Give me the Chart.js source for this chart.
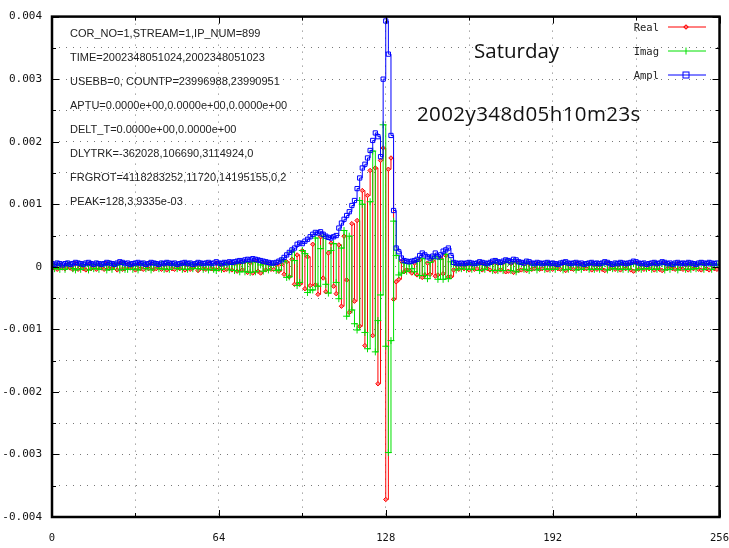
<!DOCTYPE html>
<html>
<head>
<meta charset="utf-8">
<script src="https://cdn.jsdelivr.net/npm/chart.js@4.4.0/dist/chart.umd.min.js"></script>
<style>
  body { margin: 0; background: #fff; }
  #wrap { position: relative; width: 729px; height: 548px; }
  .info { position: absolute; left: 70px; font: 11px "Liberation Sans", sans-serif; color: #222; white-space: pre; line-height: 14px; }
  .big { position: absolute; font: 20.5px "Open Sans", sans-serif; color: #111; white-space: nowrap; line-height: 24px; }
  .legtxt { position: absolute; left: 600px; width: 59px; text-align: right; font: 10.5px "DejaVu Sans Mono", monospace; color: #222; line-height: 14px; }
  .legsvg { position: absolute; left: 668px; width: 38px; height: 12px; }
</style>
</head>
<body>
<div id="wrap">
  <canvas id="fringe" width="729" height="548"></canvas>

  <div class="info" style="top:26px">COR_NO=1,STREAM=1,IP_NUM=899</div>
  <div class="info" style="top:50px">TIME=2002348051024,2002348051023</div>
  <div class="info" style="top:74px">USEBB=0, COUNTP=23996988,23990951</div>
  <div class="info" style="top:98px">APTU=0.0000e+00,0.0000e+00,0.0000e+00</div>
  <div class="info" style="top:122px">DELT_T=0.0000e+00,0.0000e+00</div>
  <div class="info" style="top:146px">DLYTRK=-362028,106690,3114924,0</div>
  <div class="info" style="top:170px">FRGROT=4118283252,11720,14195155,0,2</div>
  <div class="info" style="top:194px">PEAK=128,3.9335e-03</div>

  <div class="big" style="left:474px; top:38px">Saturday</div>
  <div class="big" style="left:417px; top:101px; letter-spacing:0.4px">2002y348d05h10m23s</div>

  <div class="legtxt" style="top:20px">Real</div>
  <svg class="legsvg" style="top:21px" viewBox="0 0 38 12">
    <line x1="0" y1="6" x2="38" y2="6" stroke="#ff0000" stroke-width="1"/>
    <rect x="16.5" y="4.5" width="3" height="3" fill="#ff8080" stroke="#ff0000" stroke-width="1" transform="rotate(45 18 6)"/>
  </svg>
  <div class="legtxt" style="top:44px">Imag</div>
  <svg class="legsvg" style="top:45px" viewBox="0 0 38 12">
    <line x1="0" y1="6" x2="38" y2="6" stroke="#00e000" stroke-width="1"/>
    <line x1="18" y1="2.5" x2="18" y2="9.5" stroke="#00e000" stroke-width="1"/>
  </svg>
  <div class="legtxt" style="top:68px">Ampl</div>
  <svg class="legsvg" style="top:69px" viewBox="0 0 38 12">
    <line x1="0" y1="6" x2="38" y2="6" stroke="#0000ff" stroke-width="1"/>
    <rect x="15" y="3" width="6" height="6" fill="none" stroke="#0000ff" stroke-width="1"/>
  </svg>
</div>

<script>
// sample number (lag channel) 0..255
const sampleNo = Array.from({length: 256}, (_, i) => i);

// values, in units of 1e-4
const realVals = [
  -0.3, 0.2,-0.4, 0.3,-0.2,-0.3, 0.4,-0.2,-0.4, 0.5,
  -0.4, 0.2,-0.3,-0.5, 0.4,-0.3, 0.2,-0.4, 0.3,-0.2,
  -0.4, 0.5,-0.3,-0.2, 0.3,-0.5, 0.6,-0.4,-0.3, 0.4,
  -0.2, 0.3,-0.5, 0.4,-0.3,-0.4, 0.2,-0.3, 0.5,-0.4,
  -0.3, 0.2,-0.4, 0.3,-0.5, 0.4,-0.3,-0.4, 0.2,-0.3,
   0.4,-0.5, 0.3,-0.4,-0.2, 0.3,-0.6, 0.4,-0.3,-0.4,
   0.5,-0.3,-0.4, 0.6,-0.4, 0.3,-0.5,-0.4, 0.6,-0.5,
   0.5,-0.7, 0.6,-0.5, 0.8,-0.9, 0.6,-1.0, 0.9,-0.7,
  -1.0, 0.6,-0.5, 0.5,-0.4,-0.4, 0.3,-0.7, 0.4,-1.2,
   0.8,-1.6, 1.2,-2.8, 1.9,-2.8, 2.6,-3.5, 1.6,-3.0,
   3.6,-2.9,-4.4, 4.8,-1.8,-4.0, 2.2, 3.8,-3.1,-4.3,
   3.5,-6.3, 4.9,-2.1,-7.3, 6.9,-5.5, 7.4,-9.5,12.2,
 -12.6,11.4,15.4,-11.0,15.8,-18.7,17.0,19.0,-37.2,15.6,
  17.4,-5.2,-2.4,-2.0, 0.9,-0.8,-0.5,-0.6,-1.0, 0.6,
  -1.3, 1.1,-1.7,-1.3, 0.6,-1.2, 1.0,-1.5,-1.3, 1.4,
  -1.1, 1.8,-1.6,-1.6,-0.5, 0.3,-0.4, 0.3,-0.3, 0.4,
  -0.5, 0.3,-0.4,-0.3, 0.5,-0.5, 0.4,-0.3,-0.5, 0.6,
  -0.7, 0.5,-0.5, 0.6,-0.8,-0.7, 0.5,-0.9, 0.7,-0.6,
  -0.5, 0.4,-0.6, 0.5,-0.4,-0.3, 0.5,-0.4,-0.3, 0.4,
  -0.5, 0.3,-0.4, 0.3,-0.3,-0.4, 0.5,-0.6, 0.4,-0.3,
  -0.4, 0.5,-0.3, 0.4,-0.3,-0.3, 0.4,-0.5, 0.3,-0.4,
   0.3,-0.4,-0.6, 0.5,-0.3, 0.2,-0.4, 0.3,-0.5, 0.4,
  -0.3, 0.4,-0.5,-0.7, 0.6,-0.4, 0.3,-0.4, 0.2,-0.3,
   0.4,-0.5, 0.3,-0.4,-0.6, 0.5,-0.3, 0.4,-0.3,-0.4,
   0.5,-0.3,-0.4, 0.3,-0.5, 0.4,-0.3, 0.3,-0.4,-0.5,
   0.4,-0.3,-0.5, 0.4,-0.3,-0.4
];

const imagVals = [
   0.4,-0.3, 0.4,-0.4, 0.2,-0.4, 0.4, 0.3,-0.3,-0.5,
   0.4,-0.4, 0.3, 0.3,-0.5, 0.4,-0.3, 0.4,-0.4, 0.3,
   0.3,-0.5, 0.5,-0.4, 0.3, 0.3,-0.5, 0.5,-0.4,-0.4,
   0.3,-0.4, 0.3,-0.5, 0.4, 0.4,-0.3, 0.4,-0.5, 0.4,
   0.4,-0.3, 0.4,-0.4, 0.5,-0.4, 0.4, 0.3,-0.3, 0.4,
  -0.4, 0.5,-0.4, 0.4,-0.3, 0.4,-0.3, 0.4,-0.4, 0.4,
  -0.5, 0.4,-0.4,-0.6, 0.4,-0.4, 0.5, 0.4,-0.5, 0.5,
  -0.6, 0.6,-0.8, 0.7,-0.8, 0.7,-0.9, 0.8,-0.8, 0.8,
   0.3,-0.7, 0.6,-0.5, 0.4, 0.4,-0.6,-0.5, 1.0, 0.9,
  -1.7,-1.6, 2.4, 1.0,-3.0,-2.5, 2.6, 2.1,-4.1,-3.7,
  -3.7, 4.6,-3.1, 2.9, 4.9,-2.8,-4.2, 2.6, 3.7,-2.5,
  -5.1, 3.0, 5.8,-7.9, 4.9,-6.9,-9.1,-10.1,10.6,10.0,
 -10.5,-13.1,10.4,18.5,-13.6,-8.6,-4.5,22.7,-12.7,-29.7,
 -11.8, 7.3, 1.8,-1.3,-1.0, 0.6,-0.7, 0.5,-0.3,-0.8,
   0.9,-1.4, 1.3,-1.4,-1.9, 0.7, 1.3, 1.6,-2.0, 1.2,
  -2.0, 2.0,-1.9, 0.8, 0.4,-0.5, 0.4,-0.3, 0.4,-0.4,
   0.5,-0.4, 0.3, 0.5,-0.6, 0.4,-0.4, 0.3, 0.5,-0.6,
   0.7,-0.6, 0.5,-0.6, 0.8, 0.7,-0.6, 0.8,-0.8, 0.5,
   0.5,-0.4, 0.6,-0.6, 0.4, 0.3,-0.5, 0.4, 0.4,-0.4,
   0.5,-0.4, 0.4,-0.4, 0.3, 0.4,-0.5, 0.5,-0.4, 0.4,
   0.4,-0.5, 0.4,-0.4, 0.3, 0.4,-0.4, 0.5,-0.4, 0.4,
  -0.4, 0.4, 0.5,-0.5, 0.4,-0.3, 0.4,-0.4, 0.5,-0.4,
   0.4,-0.4, 0.5, 0.5,-0.5, 0.4,-0.4, 0.4,-0.3, 0.4,
  -0.4, 0.5,-0.4, 0.4, 0.5,-0.5, 0.4,-0.4, 0.3, 0.4,
  -0.5, 0.4, 0.4,-0.4, 0.5,-0.4, 0.4,-0.3, 0.4, 0.5,
  -0.4, 0.4, 0.5,-0.4, 0.4, 0.4
];

const amplVals = [
  0.5, 0.4, 0.6, 0.5, 0.3, 0.5, 0.6, 0.4, 0.5, 0.7,
  0.6, 0.5, 0.4, 0.6, 0.7, 0.5, 0.4, 0.6, 0.5, 0.4,
  0.5, 0.7, 0.6, 0.5, 0.4, 0.6, 0.8, 0.7, 0.5, 0.6,
  0.4, 0.5, 0.6, 0.7, 0.5, 0.6, 0.4, 0.5, 0.7, 0.6,
  0.5, 0.4, 0.6, 0.5, 0.7, 0.6, 0.5, 0.6, 0.4, 0.5,
  0.6, 0.7, 0.5, 0.6, 0.4, 0.5, 0.7, 0.6, 0.5, 0.6,
  0.7, 0.5, 0.6, 0.8, 0.6, 0.5, 0.7, 0.6, 0.8, 0.7,
  0.8, 0.9, 1.0, 0.9, 1.1, 1.2, 1.1, 1.3, 1.2, 1.1,
  1.0, 0.9, 0.8, 0.7, 0.6, 0.6, 0.7, 0.9, 1.1, 1.5,
  1.9, 2.3, 2.7, 3.0, 3.6, 3.8, 3.7, 4.1, 4.4, 4.8,
  5.2, 5.5, 5.4, 5.6, 5.2, 4.9, 4.7, 4.6, 4.8, 5.0,
  6.2, 7.0, 7.6, 8.2, 8.8, 9.8,10.6,12.5,14.2,15.8,
 16.4,17.4,18.6,20.2,21.4,20.8,17.6,30.0,39.3,34.0,
 21.0, 9.0, 3.0, 2.4, 1.4, 1.0, 0.9, 0.8, 0.9, 1.0,
  1.2, 1.8, 2.2, 1.9, 1.6, 1.4, 1.7, 2.2, 1.6, 1.9,
  2.5, 2.7, 3.0, 1.8, 0.7, 0.6, 0.5, 0.6, 0.5, 0.6,
  0.7, 0.6, 0.5, 0.6, 0.8, 0.7, 0.6, 0.5, 0.7, 0.9,
  1.0, 0.8, 0.7, 0.9, 1.1, 1.0, 0.8, 1.2, 1.1, 0.8,
  0.7, 0.6, 0.9, 0.8, 0.6, 0.5, 0.7, 0.6, 0.5, 0.6,
  0.7, 0.5, 0.6, 0.5, 0.4, 0.6, 0.7, 0.8, 0.6, 0.5,
  0.6, 0.7, 0.5, 0.6, 0.4, 0.5, 0.6, 0.7, 0.5, 0.6,
  0.5, 0.6, 0.8, 0.7, 0.5, 0.4, 0.6, 0.5, 0.7, 0.6,
  0.5, 0.6, 0.7, 0.9, 0.8, 0.6, 0.5, 0.6, 0.4, 0.5,
  0.6, 0.7, 0.5, 0.6, 0.8, 0.7, 0.5, 0.6, 0.4, 0.6,
  0.7, 0.5, 0.6, 0.5, 0.7, 0.6, 0.5, 0.4, 0.6, 0.7,
  0.6, 0.5, 0.7, 0.6, 0.5, 0.6
];

const UNIT = 1e-4;
const xTicksLabelled = [0, 64, 128, 192, 256];

function toPoints(vals) {
  return vals.map((v, i) => ({x: sampleNo[i], y: v * UNIT}));
}

// gnuplot style frame: full box plus ticks pointing inward on all sides
const framePlugin = {
  id: 'frame',
  afterDraw(chart) {
    const {ctx, chartArea: a, scales} = chart;
    const x = scales.x, y = scales.y;
    ctx.save();
    ctx.strokeStyle = '#000';
    ctx.lineWidth = 1;
    ctx.beginPath();
    x.ticks.forEach(t => {
      const px = Math.round(x.getPixelForValue(t.value)) + 0.5;
      const len = xTicksLabelled.includes(t.value) ? 7 : 4;
      ctx.moveTo(px, a.bottom); ctx.lineTo(px, a.bottom - len);
      ctx.moveTo(px, a.top); ctx.lineTo(px, a.top + len);
    });
    y.ticks.forEach(t => {
      const py = Math.round(y.getPixelForValue(t.value)) + 0.5;
      const len = Math.round(t.value * 10000) % 10 === 0 ? 7 : 4;
      ctx.moveTo(a.left, py); ctx.lineTo(a.left + len, py);
      ctx.moveTo(a.right, py); ctx.lineTo(a.right - len, py);
    });
    ctx.stroke();
    ctx.lineWidth = 2.5;
    ctx.strokeRect(a.left, a.top, a.right - a.left, a.bottom - a.top);
    ctx.restore();
  }
};

const ctx = document.getElementById('fringe').getContext('2d');
new Chart(ctx, {
  type: 'line',
  data: {
    datasets: [
      {
        label: 'Real',
        data: toPoints(realVals),
        borderColor: '#ff0000',
        backgroundColor: '#ff8080',
        borderWidth: 1,
        stepped: true,
        pointStyle: 'rectRot',
        pointRadius: 2.2,
        pointBorderWidth: 1,
        order: 3
      },
      {
        label: 'Imag',
        data: toPoints(imagVals),
        borderColor: '#00e000',
        backgroundColor: '#00e000',
        borderWidth: 1,
        stepped: true,
        pointStyle: 'cross',
        pointRadius: 3.5,
        pointBorderWidth: 1,
        order: 2
      },
      {
        label: 'Ampl',
        data: toPoints(amplVals),
        borderColor: '#0000ff',
        backgroundColor: 'rgba(0,0,0,0)',
        borderWidth: 1,
        stepped: true,
        pointStyle: 'rect',
        pointRadius: 3,
        pointBorderWidth: 1,
        order: 1
      }
    ]
  },
  options: {
    responsive: false,
    animation: false,
    layout: { padding: { top: 4, right: 0, left: 0, bottom: 0 } },
    plugins: {
      legend: { display: false },
      tooltip: { enabled: false }
    },
    scales: {
      x: {
        type: 'linear',
        min: 0,
        max: 256,
        afterFit: s => { s.height = 31; },
        grid: { color: '#777', lineWidth: 1, drawTicks: true, tickLength: 15, tickColor: 'rgba(0,0,0,0)' },
        border: { display: false, dash: [1, 6] },
        ticks: {
          stepSize: 32,
          padding: 0,
          color: '#111',
          maxRotation: 0,
          autoSkip: false,
          font: { family: 'DejaVu Sans Mono', size: 10.5 },
          callback: v => xTicksLabelled.includes(v) ? String(v) : ''
        }
      },
      y: {
        min: -0.004,
        max: 0.004,
        afterFit: s => { s.width = 52; },
        grid: { color: '#777', lineWidth: 1, drawTicks: false },
        border: { display: false, dash: [1, 6] },
        ticks: {
          stepSize: 0.0005,
          padding: 10,
          color: '#111',
          autoSkip: false,
          font: { family: 'DejaVu Sans Mono', size: 11 },
          callback: v => {
            const r = Math.round(v * 10000);
            if (r % 10 !== 0) return '';
            return r === 0 ? '0' : (r / 10000).toFixed(3);
          }
        }
      }
    }
  },
  plugins: [framePlugin]
});
</script>
</body>
</html>
